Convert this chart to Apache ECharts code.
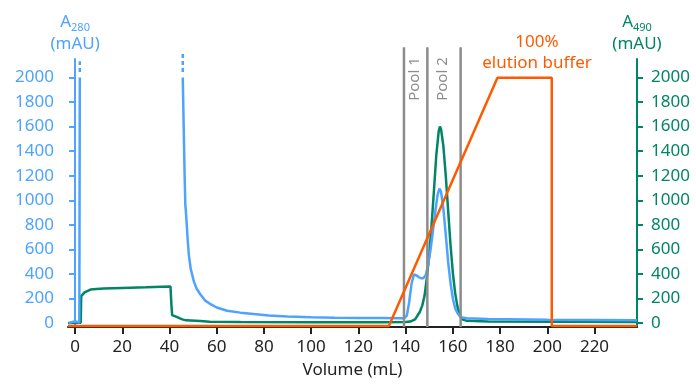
<!DOCTYPE html>
<html>
<head>
<meta charset="utf-8">
<script src="https://cdn.jsdelivr.net/npm/echarts@6/dist/echarts.min.js"></script>
<style>
  html, body { margin: 0; padding: 0; background: #fff; }
  #main { width: 696px; height: 384px; }
</style>
</head>
<body>
<div id="main"></div>
<script>
// tick labels
const xTicks = [0, 20, 40, 60, 80, 100, 120, 140, 160, 180, 200, 220];
const yTicks = [0, 200, 400, 600, 800, 1000, 1200, 1400, 1600, 1800, 2000];

// A280 (mAU) vs volume (mL); null = off scale
const a280 = [
  [-2.7, 0], [-2, 3], [-1, 10], [-0.3, 22], [0.5, 12], [1.3, 6], [1.8, 5], [2.0, 2000],
  [20, null],
  [45.6, 2000], [46.0, 1600], [46.4, 1200], [46.7, 960], [46.9, 920], [47.3, 800], [47.8, 650],
  [48.2, 552], [49.0, 440], [50.3, 340], [51.5, 280], [53.1, 233], [55, 185], [57.4, 154],
  [60, 127], [64.4, 100], [70, 85], [75.7, 74], [82, 62], [89.9, 53], [100, 47], [110, 44],
  [120, 42], [130, 41], [138, 40], [139.5, 40], [140.5, 60], [141.5, 170], [142.5, 320],
  [143.5, 395], [144.5, 390], [145.5, 375], [146.5, 365], [147.5, 365], [148.5, 390],
  [149.5, 470], [150.5, 590], [151.5, 740], [152.5, 900], [153.5, 1040], [154.3, 1095],
  [155, 1070], [156, 930], [157, 720], [158, 500], [159, 330], [160, 200], [161, 120],
  [162, 80], [163, 55], [164, 45], [166, 40], [175, 34], [200, 28], [238, 24]
];

// off-scale continuation marks for A280
const a280Breaks = [
  [[2.0, 2045], [2.0, 2132]],
  [[45.6, 2045], [45.6, 2199]]
];

// A490 (mAU) vs volume (mL)
const a490 = [
  [-3, 0], [2.4, 2], [2.6, 220], [4, 250], [6.5, 273], [9, 278], [12.2, 281], [20, 286],
  [30, 291], [40.4, 297], [40.8, 150], [41.1, 65], [43, 50], [45.4, 30], [47, 22], [53, 16],
  [57, 10], [70, 8], [100, 6], [130, 6], [140, 8], [142, 12], [144, 30], [146, 90],
  [147, 140], [148, 220], [149, 370], [150, 560], [151, 800], [152, 1080], [153, 1370],
  [154, 1560], [154.5, 1600], [155, 1580], [156, 1440], [157, 1200], [158, 920], [159, 640],
  [160, 410], [161, 240], [162, 130], [163, 60], [164, 30], [166, 18], [175, 12], [238, 8]
];

// % elution buffer vs volume (mL)
const buffer = [
  [-3, 0], [132.9, 0], [178.9, 100], [201.9, 100], [201.9, 0], [238, 0]
];

// pooled fraction boundaries (mL)
const poolLines = [139.3, 149.2, 163.3];

const blue = '#4da3ff';
const green = '#008566';
const orange = '#ff5a00';
const grey = '#8c8c8c';
const font = 'Noto Sans';
const plain = v => String(v);

const myChart = echarts.init(document.getElementById('main'));

const series = [
  {
    type: 'line', name: 'A490', yAxisIndex: 1, data: a490, showSymbol: false,
    lineStyle: { color: green, width: 2.5 }, itemStyle: { color: green }
  },
  {
    type: 'line', name: 'A280', yAxisIndex: 0, data: a280, showSymbol: false,
    connectNulls: false, lineStyle: { color: blue, width: 2.5 }, itemStyle: { color: blue }
  }
];
a280Breaks.forEach(seg => {
  series.push({
    type: 'line', yAxisIndex: 0, data: seg, showSymbol: false, clip: false,
    lineStyle: { color: blue, width: 2.5, type: [4, 3] }
  });
});
poolLines.forEach(v => {
  series.push({
    type: 'line', yAxisIndex: 0, data: [[v, -32], [v, 2247]], showSymbol: false, clip: false,
    lineStyle: { color: grey, width: 2.5 }
  });
});
series.push({
  type: 'line', name: 'buffer', yAxisIndex: 2, data: buffer, showSymbol: false,
  lineStyle: { color: orange, width: 2.5 }, itemStyle: { color: orange }
});

myChart.setOption({
  animation: false,
  textStyle: { fontFamily: font },
  grid: { left: 68, right: 59, top: 59, bottom: 51 },
  xAxis: {
    type: 'value', min: -3, max: 238,
    name: 'Volume (mL)', nameLocation: 'middle', nameGap: 35,
    nameTextStyle: { color: '#222', fontSize: 17, fontFamily: font },
    splitLine: { show: false },
    axisLine: { onZero: false, lineStyle: { color: '#222', width: 2 } },
    axisTick: { customValues: xTicks, length: 7, lineStyle: { color: '#222', width: 2 } },
    axisLabel: { customValues: xTicks, formatter: plain, color: '#222', fontSize: 17, margin: 12, fontFamily: font }
  },
  yAxis: [
    {
      type: 'value', min: -32, max: 2151, position: 'left',
      name: '{a|A}{s|280}\n{a|(mAU)}', nameLocation: 'end', nameGap: 4,
      nameTextStyle: {
        align: 'center', color: blue,
        rich: {
          a: { fontSize: 17, color: blue, lineHeight: 22, fontFamily: font },
          s: { fontSize: 11, color: blue, verticalAlign: 'bottom', lineHeight: 16, fontFamily: font }
        }
      },
      splitLine: { show: false },
      axisLine: { show: true, lineStyle: { color: blue, width: 2 } },
      axisTick: { show: true, customValues: yTicks, length: 6, lineStyle: { color: blue, width: 2 } },
      axisLabel: { customValues: yTicks, formatter: plain, color: blue, fontSize: 17, margin: 14, fontFamily: font }
    },
    {
      type: 'value', min: -32, max: 2151, position: 'right',
      name: '{a|A}{s|490}\n{a|(mAU)}', nameLocation: 'end', nameGap: 4,
      nameTextStyle: {
        align: 'center', color: green,
        rich: {
          a: { fontSize: 17, color: green, lineHeight: 22, fontFamily: font },
          s: { fontSize: 11, color: green, verticalAlign: 'bottom', lineHeight: 16, fontFamily: font }
        }
      },
      splitLine: { show: false },
      axisLine: { show: true, lineStyle: { color: green, width: 2 } },
      axisTick: { show: true, customValues: yTicks, length: 6, lineStyle: { color: green, width: 2 } },
      axisLabel: { customValues: yTicks, formatter: plain, color: green, fontSize: 17, margin: 14, fontFamily: font }
    },
    {
      type: 'value', min: -0.4, max: 107.5, show: false, splitLine: { show: false }
    }
  ],
  graphic: [
    {
      type: 'text', x: 415, y: 79, rotation: Math.PI / 2,
      style: { text: 'Pool 1', fill: grey, font: '15px "Noto Sans"', align: 'center', verticalAlign: 'middle' }
    },
    {
      type: 'text', x: 443, y: 79, rotation: Math.PI / 2,
      style: { text: 'Pool 2', fill: grey, font: '15px "Noto Sans"', align: 'center', verticalAlign: 'middle' }
    },
    {
      type: 'text', x: 537, y: 53,
      style: {
        text: '100%\nelution buffer', fill: orange, font: '17px "Noto Sans"',
        lineHeight: 21, align: 'center', verticalAlign: 'middle'
      }
    }
  ],
  series: series
});
</script>
</body>
</html>
